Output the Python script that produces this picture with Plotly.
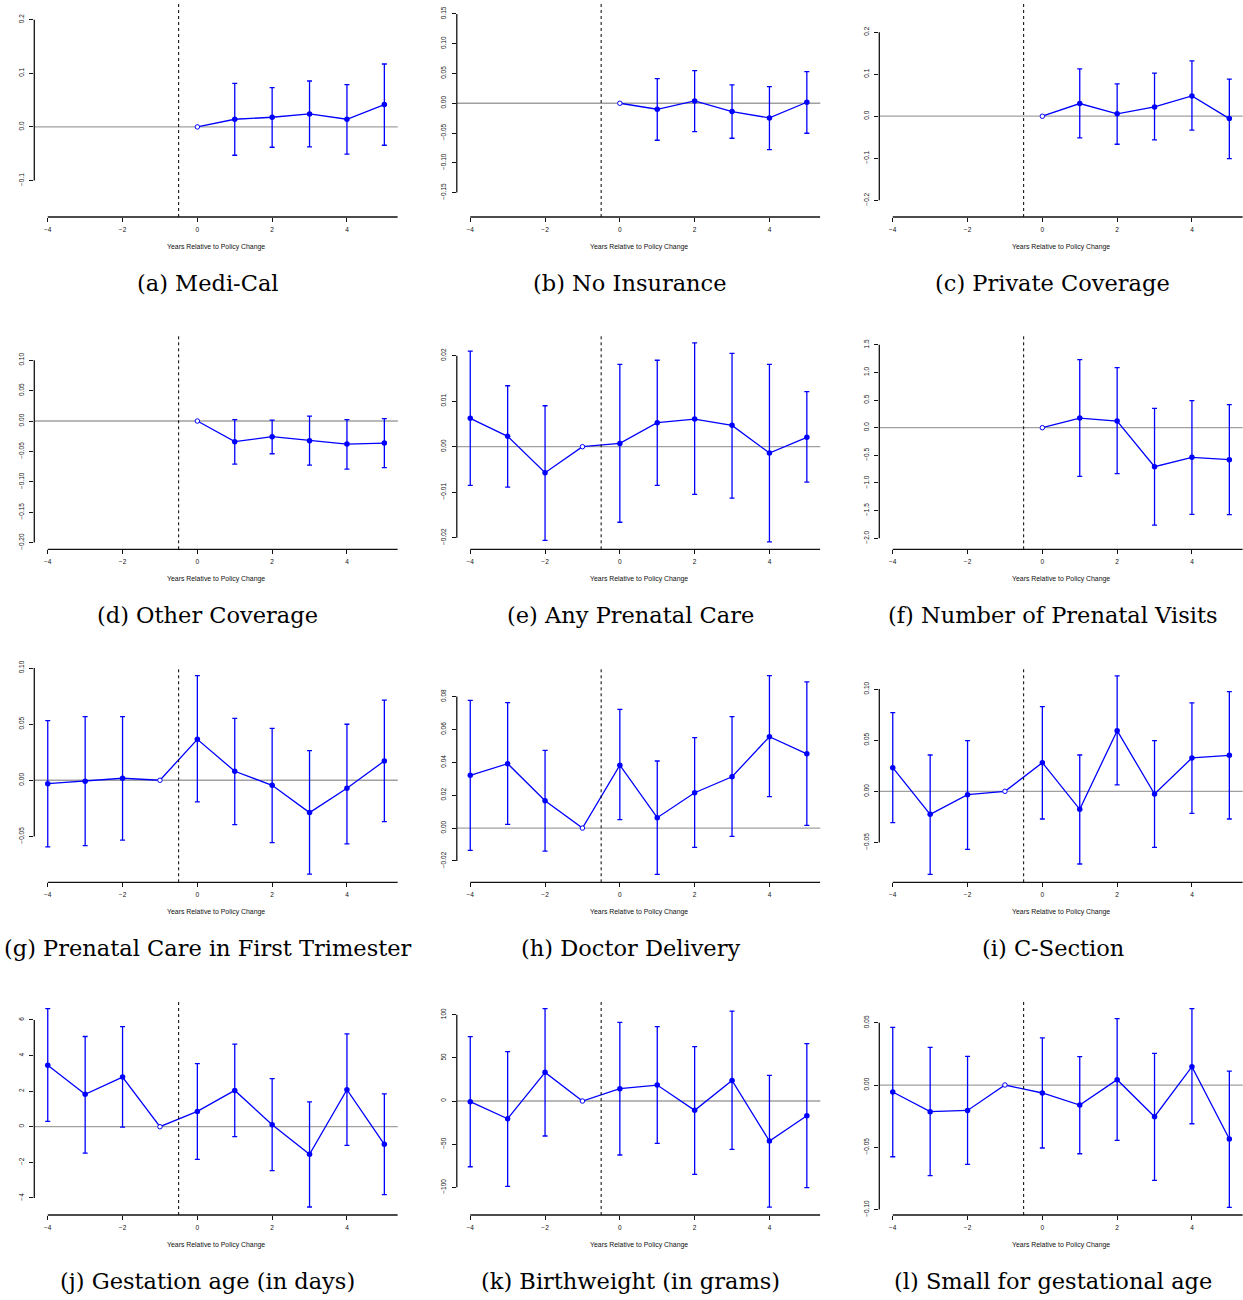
import plotly.graph_objects as go

# ---------------- data ----------------
years_post = [0, 1, 2, 3, 4, 5]
years_all = [-4, -3, -2, -1, 0, 1, 2, 3, 4, 5]
x_ticks = [-4, -2, 0, 2, 4]
x_title = "Years Relative to Policy Change"

captions = [
    "(a) Medi-Cal", "(b) No Insurance", "(c) Private Coverage",
    "(d) Other Coverage", "(e) Any Prenatal Care", "(f) Number of Prenatal Visits",
    "(g) Prenatal Care in First Trimester", "(h) Doctor Delivery", "(i) C-Section",
    "(j) Gestation age (in days)", "(k) Birthweight (in grams)", "(l) Small for gestational age",
]

medical_est = [0, 0.0143, 0.0180, 0.0242, 0.0143, 0.0416]
medical_lo = [0, -0.0528, -0.0379, -0.0373, -0.0509, -0.0342]
medical_hi = [0, 0.0814, 0.0733, 0.0857, 0.0789, 0.1174]

noins_est = [0, -0.0101, 0.0039, -0.0140, -0.0246, 0.0017]
noins_lo = [0, -0.0621, -0.0476, -0.0588, -0.0778, -0.0504]
noins_hi = [0, 0.0414, 0.0548, 0.0308, 0.0280, 0.0532]

private_est = [0, 0.0302, 0.0056, 0.0222, 0.0484, -0.0056]
private_lo = [0, -0.0516, -0.0667, -0.0563, -0.0333, -0.1008]
private_hi = [0, 0.1127, 0.0770, 0.1024, 0.1317, 0.0881]

other_est = [0, -0.0340, -0.0258, -0.0324, -0.0379, -0.0362]
other_lo = [0, -0.0708, -0.0538, -0.0724, -0.0790, -0.0768]
other_hi = [0, 0.0022, 0.0016, 0.0082, 0.0022, 0.0038]

anypn_est = [0.00623, 0.00227, -0.00571, 0, 0.00073, 0.00527, 0.00608, 0.00469, -0.00139, 0.00205]
anypn_lo = [-0.0085, -0.0089, -0.0206, 0, -0.0166, -0.0085, -0.0105, -0.0113, -0.0209, -0.0078]
anypn_hi = [0.0210, 0.0134, 0.0090, 0, 0.0181, 0.0190, 0.0228, 0.0205, 0.0181, 0.0121]

visits_est = [0, 0.175, 0.121, -0.706, -0.537, -0.579]
visits_lo = [0, -0.881, -0.833, -1.762, -1.569, -1.575]
visits_hi = [0, 1.231, 1.086, 0.350, 0.489, 0.416]

first_est = [-0.0030, -0.0009, 0.0018, 0, 0.0365, 0.0080, -0.0045, -0.0288, -0.0071, 0.0172]
first_lo = [-0.0594, -0.0582, -0.0534, 0, -0.0193, -0.0395, -0.0555, -0.0837, -0.0567, -0.0368]
first_hi = [0.0531, 0.0567, 0.0567, 0, 0.0932, 0.0552, 0.0463, 0.0264, 0.0499, 0.0713]

doctor_est = [0.0321, 0.0392, 0.0166, 0, 0.0383, 0.0063, 0.0215, 0.0312, 0.0556, 0.0452]
doctor_lo = [-0.0136, 0.0022, -0.0140, 0, 0.0051, -0.0282, -0.0118, -0.0051, 0.0191, 0.0016]
doctor_hi = [0.0777, 0.0763, 0.0473, 0, 0.0722, 0.0408, 0.0550, 0.0678, 0.0927, 0.0889]

csec_est = [0.0231, -0.0225, -0.0033, 0, 0.0280, -0.0176, 0.0593, -0.0026, 0.0326, 0.0352]
csec_lo = [-0.0306, -0.0812, -0.0567, 0, -0.0271, -0.0711, 0.0062, -0.0548, -0.0215, -0.0271]
csec_hi = [0.0769, 0.0355, 0.0495, 0, 0.0828, 0.0355, 0.1128, 0.0495, 0.0864, 0.0975]

gest_est = [3.46, 1.82, 2.79, 0, 0.86, 2.04, 0.11, -1.55, 2.08, -0.99]
gest_lo = [0.30, -1.48, -0.02, 0, -1.84, -0.56, -2.47, -4.51, -1.05, -3.82]
gest_hi = [6.63, 5.07, 5.62, 0, 3.54, 4.64, 2.70, 1.40, 5.22, 1.84]

bw_est = [-0.8, -20.5, 33.2, 0, 14.3, 18.5, -10.8, 23.9, -46.3, -17.0]
bw_lo = [-76.1, -98.8, -40.5, 0, -62.5, -49.0, -84.9, -56.0, -122.8, -100.4]
bw_hi = [74.5, 57.1, 106.9, 0, 91.1, 86.1, 62.9, 104.2, 29.7, 66.4]

sga_est = [-0.0056, -0.0214, -0.0204, 0, -0.0064, -0.0161, 0.0043, -0.0254, 0.0147, -0.0434]
sga_lo = [-0.0576, -0.0728, -0.0637, 0, -0.0506, -0.0552, -0.0445, -0.0766, -0.0311, -0.0983]
sga_hi = [0.0463, 0.0303, 0.0230, 0, 0.0378, 0.0228, 0.0533, 0.0254, 0.0613, 0.0112]

# reference (omitted) year for each panel
ref_years = [0, 0, 0, 0, -1, 0, -1, -1, -1, -1, -1, -1]

# y-axis tick values and decimals
yticks_list = [
    [-0.1, 0.0, 0.1, 0.2],
    [-0.15, -0.10, -0.05, 0.0, 0.05, 0.10, 0.15],
    [-0.2, -0.1, 0.0, 0.1, 0.2],
    [-0.20, -0.15, -0.10, -0.05, 0.0, 0.05, 0.10],
    [-0.02, -0.01, 0.0, 0.01, 0.02],
    [-2.0, -1.5, -1.0, -0.5, 0.0, 0.5, 1.0, 1.5],
    [-0.05, 0.0, 0.05, 0.10],
    [-0.02, 0.0, 0.02, 0.04, 0.06, 0.08],
    [-0.05, 0.0, 0.05, 0.10],
    [-4, -2, 0, 2, 4, 6],
    [-100, -50, 0, 50, 100],
    [-0.10, -0.05, 0.0, 0.05],
]
ydecimals = [1, 2, 1, 2, 2, 1, 2, 2, 2, 0, 0, 2]

panel_years = [years_post, years_post, years_post, years_post, years_all, years_post,
               years_all, years_all, years_all, years_all, years_all, years_all]
panel_est = [medical_est, noins_est, private_est, other_est, anypn_est, visits_est,
             first_est, doctor_est, csec_est, gest_est, bw_est, sga_est]
panel_lo = [medical_lo, noins_lo, private_lo, other_lo, anypn_lo, visits_lo,
            first_lo, doctor_lo, csec_lo, gest_lo, bw_lo, sga_lo]
panel_hi = [medical_hi, noins_hi, private_hi, other_hi, anypn_hi, visits_hi,
            first_hi, doctor_hi, csec_hi, gest_hi, bw_hi, sga_hi]

# ---------------- layout geometry ----------------
W, H = 1243, 1300
x_range = [-4.36, 5.36]
y_ranges = [
    [-0.168, 0.233], [-0.191, 0.170], [-0.240, 0.272],
    [-0.211, 0.1415], [-0.02255, 0.02455], [-2.201, 1.678],
    [-0.0909, 0.1000], [-0.0330, 0.0974], [-0.0890, 0.1206],
    [-4.96, 7.12], [-132, 117], [-0.1044, 0.0683],
]
col_left = [34.3 + 422.5 * c for c in range(3)]
plot_w = 363.5
row_top = [2, 335, 668, 1000]
row_bot = [217, 549.3, 882.3, 1215]

BLUE = "#0000ff"
TICK_FONT = dict(family="Liberation Sans, Arial, sans-serif", size=6.5, color="#111")


def fmt(v, d):
    s = f"{abs(v):.{d}f}"
    return ("\u2212" + s) if v < 0 else s


fig = go.Figure()
layout = dict(
    width=W, height=H, margin=dict(l=0, r=0, t=0, b=0, autoexpand=False),
    paper_bgcolor="white", plot_bgcolor="white", showlegend=False,
    shapes=[], annotations=[],
)

for i in range(12):
    r, c = divmod(i, 3)
    n = "" if i == 0 else str(i + 1)
    xa, ya = "x" + n, "y" + n
    years, est, lo, hi = panel_years[i], panel_est[i], panel_lo[i], panel_hi[i]
    ref = ref_years[i]

    xd = [col_left[c] / W, min(1.0, (col_left[c] + plot_w) / W)]
    yd = [1 - row_bot[r] / H, 1 - row_top[r] / H]

    layout["xaxis" + n] = dict(
        domain=xd, range=x_range, anchor=ya, tickmode="array", tickvals=x_ticks,
        ticktext=[fmt(v, 0) for v in x_ticks], ticks="outside", ticklen=4, tickwidth=1,
        tickcolor="#111", showline=False, showgrid=False, zeroline=False,
        tickfont=TICK_FONT, fixedrange=True, automargin=False, ticklabelstandoff=2,
    )
    yt = yticks_list[i]
    layout["yaxis" + n] = dict(
        domain=yd, range=y_ranges[i], anchor=xa, tickmode="array", tickvals=yt,
        ticktext=[fmt(v, ydecimals[i]) for v in yt], ticks="outside", ticklen=4,
        tickwidth=1, tickcolor="#111", showline=False, showgrid=False, zeroline=False,
        tickangle=-90, tickfont=TICK_FONT, fixedrange=True, automargin=False,
        ticklabelstandoff=3,
    )

    # zero line (gray)
    layout["shapes"].append(dict(type="line", xref=xa + " domain", x0=0, x1=1,
                                 yref=ya, y0=0, y1=0, layer="below",
                                 line=dict(color="#a0a0a0", width=1.3)))
    # dotted policy line
    layout["shapes"].append(dict(type="line", xref=xa, x0=-0.5, x1=-0.5,
                                 yref=ya + " domain", y0=0, y1=1,
                                 line=dict(color="black", width=1, dash="dot")))
    # y axis line (R style: spans tick range)
    layout["shapes"].append(dict(type="line", xref=xa + " domain", x0=0, x1=0,
                                 yref=ya, y0=min(yt), y1=max(yt),
                                 line=dict(color="#111", width=1.3)))
    # x axis line
    layout["shapes"].append(dict(type="line", xref=xa, x0=min(x_ticks), x1=x_range[1],
                                 yref=ya + " domain", y0=0, y1=0,
                                 line=dict(color="#111", width=1.3)))

    # connecting line
    fig.add_trace(go.Scatter(x=years, y=est, mode="lines", xaxis=xa, yaxis=ya,
                             line=dict(color=BLUE, width=1.3), hoverinfo="skip"))
    # estimates with CIs
    px = [x for x in years if x != ref]
    py = [e for x, e in zip(years, est) if x != ref]
    plus = [h - e for x, e, h in zip(years, est, hi) if x != ref]
    minus = [e - l for x, e, l in zip(years, est, lo) if x != ref]
    fig.add_trace(go.Scatter(
        x=px, y=py, mode="markers", xaxis=xa, yaxis=ya,
        marker=dict(color=BLUE, size=5.5),
        error_y=dict(type="data", symmetric=False, array=plus, arrayminus=minus,
                     color=BLUE, thickness=1.3, width=2.5),
    ))
    # reference point (open circle)
    fig.add_trace(go.Scatter(
        x=[ref], y=[est[years.index(ref)]], mode="markers", xaxis=xa, yaxis=ya,
        marker=dict(color="white", size=4.5, line=dict(color=BLUE, width=1)),
    ))

    # x-axis title
    layout["annotations"].append(dict(
        text=x_title, xref=xa + " domain", yref=ya + " domain", x=0.5, y=0,
        yshift=-30, showarrow=False, xanchor="center", yanchor="middle",
        font=dict(family="Liberation Sans, Arial, sans-serif", size=6.9, color="#111"),
    ))
    # caption
    layout["annotations"].append(dict(
        text=captions[i], xref=xa + " domain", yref=ya + " domain", x=0.5, y=0,
        xshift=-8.5, yshift=-66, showarrow=False, xanchor="center", yanchor="middle",
        font=dict(family="DejaVu Serif, serif", size=22.5, color="black"),
    ))

fig.update_layout(**layout)
fig.write_html(
    "out.html",
    config={"displayModeBar": False},
    post_script="document.body.style.margin='0px';document.body.style.overflow='hidden';",
)
